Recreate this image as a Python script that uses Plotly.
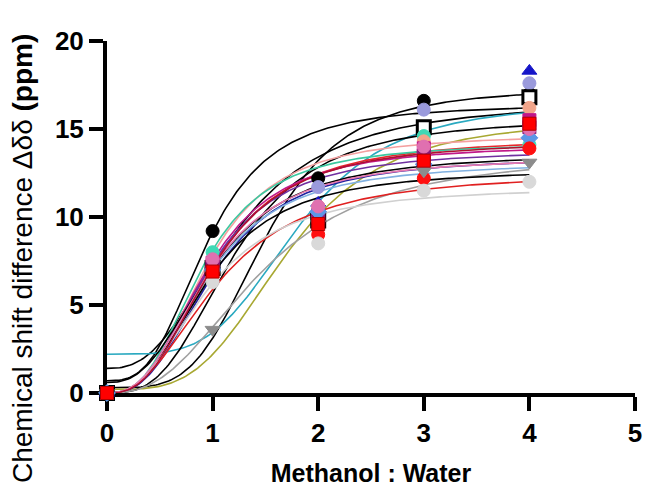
import numpy as np
import plotly.graph_objects as go

# ---------------- data ----------------
x_points = [0, 1, 2, 3, 4]

# measured points (one list per compound)
marker_symbols = ["circle", "circle", "square", "triangle-up", "circle", "circle", "square",
                  "square", "diamond", "circle", "triangle-down", "circle", "circle", "square"]
marker_colors = ["#000000", "#9A9ADC", "#FFFFFF", "#1515C8", "#3FD9B5", "#F2A58A", "#C0168C",
                 "#8A1A7A", "#5B96E6", "#FF1010", "#8C8C8C", "#D9D9D9", "#E070B0", "#FF0000"]
marker_edges = ["#000000", "#9A9ADC", "#000000", "#1515C8", "#3FD9B5", "#F2A58A", "#C0168C",
                "#8A1A7A", "#5B96E6", "#FF1010", "#8C8C8C", "#D9D9D9", "#E070B0", "#B00000"]
m01 = [0, 9.2, 12.2, 16.6, 17.0]
m02 = [0, 7.4, 11.7, 16.1, 17.6]
m03 = [0, 7.1, 9.8, 15.1, 16.8]
m04 = [0, 7.3, 10.8, 13.1, 18.3]
m05 = [0, 8.0, 10.4, 14.6, 14.1]
m06 = [0, 7.5, 10.6, 14.3, 16.2]
m07 = [0, 7.4, 10.1, 13.9, 15.5]
m08 = [0, 7.2, 10.0, 13.5, 15.1]
m09 = [0, 7.0, 10.3, 13.0, 14.5]
m10 = [0, 6.8, 9.0, 12.2, 13.9]
m11 = [0, 3.6, 9.6, 12.6, 13.1]
m12 = [0, 6.3, 8.5, 11.5, 12.0]
m13 = [0, 7.6, 10.6, 14.0, 15.0]
m14 = [0, 6.9, 9.6, 13.2, 15.3]
marker_values = [m01, m02, m03, m04, m05, m06, m07, m08, m09, m10, m11, m12, m13, m14]

# fitted sigmoidal (Hill) curves: bottom, top, EC50, Hill slope
curve_colors = ["#000000", "#000000", "#000000", "#2AA9C0", "#A8A832", "#000000", "#F4A0A0",
                "#E8262A", "#3CC8A0", "#C0188A", "#7030A0", "#000000", "#2020A0", "#80B0E0",
                "#A0A0A0", "#000000", "#E02020", "#D0D0D0", "#E87AB0", "#B01030"]
curve_bottom = [0.3, 0.7, 1.4, 2.2, 0.2, 0.0, 0.0, 0.0, 0.0, 0.0, 0.0, 0.6, 0.0, 0.0,
                0.0, 0.0, 0.0, 0.0, 0.0, 0.0]
curve_top = [17.3, 16.4, 16.6, 16.5, 15.6, 15.6, 14.7, 14.5, 14.2, 14.1, 13.8, 13.6, 13.4, 13.1,
             13.6, 12.7, 12.5, 11.7, 13.4, 14.3]
curve_ec50 = [1.5, 0.95, 1.2, 1.8, 1.7, 1.2, 0.95, 1.0, 0.9, 0.95, 0.95, 1.0, 1.0, 0.95,
              1.45, 0.95, 1.05, 0.95, 0.95, 1.0]
curve_hill = [4.0, 3.0, 2.6, 4.0, 3.6, 3.0, 2.8, 2.6, 2.8, 2.7, 2.7, 2.6, 2.7, 2.6,
              2.6, 2.6, 2.4, 2.5, 2.6, 2.7]

x_ticks = [0, 1, 2, 3, 4, 5]
y_ticks = [0, 5, 10, 15, 20]

# ---------------- figure ----------------
fig = go.Figure()

xs = np.linspace(0, 4, 200)
for c, b, t, e, h in zip(curve_colors, curve_bottom, curve_top, curve_ec50, curve_hill):
    ys = b + (t - b) * xs ** h / (e ** h + xs ** h)
    fig.add_trace(go.Scatter(x=xs, y=ys, mode="lines",
                             line=dict(color=c, width=1.6), hoverinfo="skip",
                             cliponaxis=False))

for sym, col, edge, vals in zip(marker_symbols, marker_colors, marker_edges, marker_values):
    fig.add_trace(go.Scatter(x=x_points, y=vals, mode="markers", cliponaxis=False,
                             marker=dict(symbol=sym, color=col, size=13,
                                         line=dict(color=edge, width=3 if col == "#FFFFFF" else 1))))

font_family = "Liberation Sans, Arial, sans-serif"

W, H = 645, 487
L, R, T, B = 107, 10, 41, 94
plot_h = H - T - B
plot_w = W - L - R

fig.update_layout(
    width=W, height=H,
    margin=dict(l=L, r=R, t=T, b=B),
    paper_bgcolor="white", plot_bgcolor="white",
    showlegend=False,
    font=dict(family=font_family, color="black"),
    xaxis=dict(range=[0, 5], tickvals=x_ticks, showline=True, linewidth=4, linecolor="black",
               ticks="outside", ticklen=14, tickwidth=4, tickcolor="black",
               showgrid=False, zeroline=False, layer="below traces", automargin=False,
               tickfont=dict(size=26, weight="bold", family=font_family),
               title=dict(text="Methanol : Water", standoff=18,
                          font=dict(size=25, weight="bold", family=font_family))),
    yaxis=dict(range=[0, 20], tickvals=y_ticks, showline=True, linewidth=4, linecolor="black",
               ticks="outside", ticklen=14, tickwidth=4, tickcolor="black",
               showgrid=False, zeroline=False, layer="below traces", automargin=False,
               tickfont=dict(size=26, weight="bold", family=font_family)),
    annotations=[dict(text="Chemical shift difference Δδδ <b>(ppm)</b>", textangle=-90,
                      xref="paper", yref="paper", x=(22 - L) / plot_w, y=(T + plot_h - 259) / plot_h,
                      xanchor="center", yanchor="middle", showarrow=False,
                      font=dict(size=28, family=font_family, color="black"))],
)

fig.write_html("out.html", config={"displayModeBar": False},
               post_script="document.body.style.margin='0px';document.body.style.overflow='hidden';")
